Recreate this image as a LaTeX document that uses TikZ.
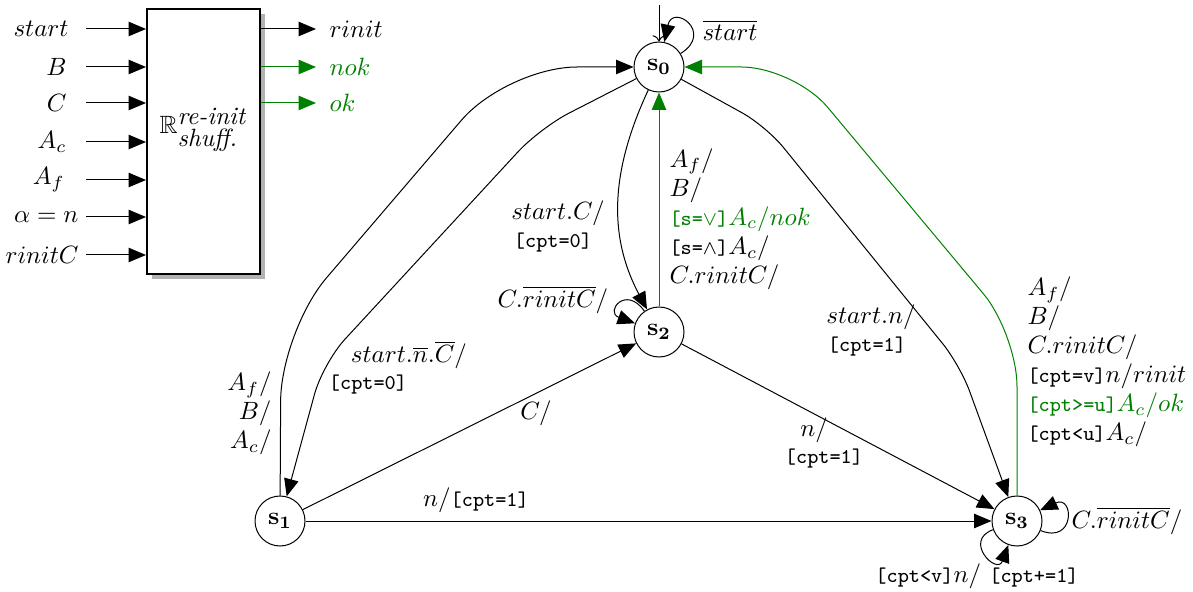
\documentclass[tikz,border=0pt]{standalone}
\usepackage{amssymb}
\usetikzlibrary{arrows.meta}
\definecolor{mygreen}{RGB}{0,128,0}
\newcommand{\cptt}[1]{{\fontsize{8.4}{10}\selectfont\ttfamily #1}}
\begin{document}
\begin{tikzpicture}[x=0.4pt,y=0.4pt,
  arr/.style={-{Triangle[length=7pt,width=5.8pt]}},
  state/.style={circle,draw,minimum size=20pt,inner sep=0pt},
  lbl/.style={inner sep=0pt},
  grn/.style={draw=mygreen},
  stack/.style={inner sep=0pt,font=\fontsize{10}{11.6}\selectfont}]
\useasboundingbox (0,0) rectangle (1193,-592);

% block
\fill[black!30] (152,-14) rectangle (265,-279);
\node[draw,line width=0.8pt,fill=white,minimum width=45.2pt,minimum height=106pt,inner sep=0pt] (blk) at (203.5,-141.5) {};
\node (blkl) at (203,-130) {$\mathbb{R}^{\textit{re-init}}_{\textit{shuff.}}$};

% inputs
\node[lbl,anchor=east] (i1) at (69,-29) {$start$};
\node[lbl,anchor=east] (i2) at (67,-67) {$B$};
\node[lbl,anchor=east] (i3) at (67,-103) {$C$};
\node[lbl,anchor=east] (i4) at (67,-142) {$A_c$};
\node[lbl,anchor=east] (i5) at (65,-180) {$A_f$};
\node[lbl,anchor=east] (i6) at (79,-217) {$\alpha = n$};
\node[lbl,anchor=east] (i7) at (79,-255) {$rinitC$};
\coordinate (c1) at (86,-29);
\coordinate (c2) at (86,-67);
\coordinate (c3) at (86,-103);
\coordinate (c4) at (86,-142);
\coordinate (c5) at (86,-180);
\coordinate (c6) at (86,-217);
\coordinate (c7) at (86,-255);
\draw[arr] (c1) -- (c1 -| blk.west);
\draw[arr] (c2) -- (c2 -| blk.west);
\draw[arr] (c3) -- (c3 -| blk.west);
\draw[arr] (c4) -- (c4 -| blk.west);
\draw[arr] (c5) -- (c5 -| blk.west);
\draw[arr] (c6) -- (c6 -| blk.west);
\draw[arr] (c7) -- (c7 -| blk.west);

% outputs
\coordinate (o1) at (316,-29);
\coordinate (o2) at (316,-67);
\coordinate (o3) at (316,-103);
\draw[arr] (blk.east |- o1) -- (o1);
\draw[arr,grn] (blk.east |- o2) -- (o2);
\draw[arr,grn] (blk.east |- o3) -- (o3);
\node[lbl,anchor=west] (ol1) at (329,-29) {$rinit$};
\node[lbl,anchor=west,text=mygreen] (ol2) at (329,-67) {$nok$};
\node[lbl,anchor=west,text=mygreen] (ol3) at (329,-103) {$ok$};

% states
\node[state] (s0) at (659,-67) {$\mathbf{s_0}$};
\node[state] (s1) at (280,-521) {$\mathbf{s_1}$};
\node[state] (s2) at (659,-332) {$\mathbf{s_2}$};
\node[state] (s3) at (1017,-521) {$\mathbf{s_3}$};

% initial
\coordinate (init) at (659,-5);
\draw[->] (init) -- (s0);

% edges
\draw[arr] (s0) to[out=32,in=78,distance=16pt] (s0);
\draw[arr,rounded corners=28pt] (s1) -- (281,-331) -- (507,-67) -- (s0);
\draw[arr,rounded corners=13pt] (s0) -- (540,-128) -- (323,-363) -- (s1);
\draw[arr] (s0) to[out=245,in=118] (s2);
\draw[arr,grn] (s2) -- (s0);
\draw[arr] (s2) to[out=125,in=160,distance=13pt] (s2);
\draw[arr] (s1) -- (s2);
\draw[arr] (s2) -- (s3);
\draw[arr] (s1) -- (s3);
\draw[arr,rounded corners=11pt] (s0) -- (766,-126) -- (960,-365) -- (s3);
\draw[arr,grn,rounded corners=21pt] (s3) -- (1017,-334) -- (794,-67) -- (s0);
\draw[arr] (s3) to[out=-22,in=25,distance=15pt] (s3);
\draw[arr] (s3) to[out=200,in=250,distance=13pt] (s3);

% labels
\node[lbl] (l0) at (730,-30) {$\overline{start}$};
\node[lbl] (l02a) at (558,-213) {$start.C/$};
\node[lbl] (l02b) at (553,-243) {\cptt{[cpt=0]}};
\node[stack,anchor=west,align=left] (l20) at (669,-219) {$A_f/$\\ $B/$\\ {\color{mygreen}\cptt{[s=$\vee$]}$A_c/nok$}\\ \cptt{[s=$\wedge$]}$A_c/$\\ $C.rinitC/$};
\node[stack,anchor=east,align=right] (l10) at (272,-413) {$A_f/$\\ $B/$\\ $A_c/$};
\node[lbl] (l01a) at (409,-355) {$start.\overline{n}.\overline{C}/$};
\node[lbl] (l01b) at (368,-385) {\cptt{[cpt=0]}};
\node[lbl] (l03a) at (871,-317) {$start.n/$};
\node[lbl] (l03b) at (867,-347) {\cptt{[cpt=1]}};
\node[lbl] (l23a) at (814,-430) {$n/$};
\node[lbl] (l23b) at (824,-459) {\cptt{[cpt=1]}};
\node[lbl] (l12) at (536,-413) {$C/$};
\node[lbl] (l13) at (476,-500) {$n/$\cptt{[cpt=1]}};
\node[lbl] (l22) at (553,-300) {$C.\overline{rinitC}/$};
\node[lbl] (l33r) at (1127,-521) {$C.\overline{rinitC}/$};
\node[lbl] (l33b) at (977,-576) {\cptt{[cpt<v]}$n/$ \cptt{[cpt+=1]}};
\node[stack,anchor=west,align=left] (l30) at (1027,-362) {$A_f/$\\ $B/$\\ $C.rinitC/$\\ \cptt{[cpt=v]}$n/rinit$\\ {\color{mygreen}\cptt{[cpt>=u]}$A_c/ok$}\\ \cptt{[cpt<u]}$A_c/$};
\end{tikzpicture}
\end{document}
